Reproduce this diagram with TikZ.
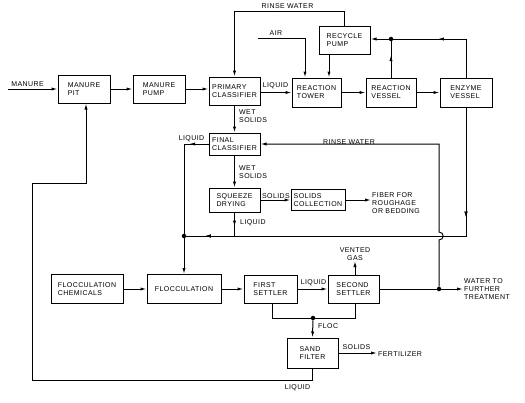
\documentclass[tikz,border=0pt]{standalone}
\usepackage{fontspec}
\setmainfont{Liberation Sans}[LetterSpace=6]
\usetikzlibrary{arrows.meta,decorations.markings}
\tikzset{
  >={Latex[length=6pt,width=3.2pt]},
  every node/.style={font=\fontsize{7}{8}\selectfont, inner sep=1pt},
  box/.style={draw, line width=1pt, rectangle, align=left, inner sep=0pt},
  lbl/.style={align=left},
  dotn/.style={circle, fill, inner sep=0pt, minimum size=4.5pt},
  ln/.style={line width=1pt},
  marrow/.style={postaction={decorate},
    decoration={markings, mark=at position #1 with {\arrow{>}}}}
}
\begin{document}
\begin{tikzpicture}[x=1pt,y=-1pt]
\useasboundingbox (0,0) rectangle (525,402);
% boxes
\node[box, minimum width=52pt, minimum height=28pt] (pit) at (84,89) {MANURE\\PIT};
\node[box, minimum width=52pt, minimum height=28pt] (pump) at (159,89) {MANURE\\PUMP};
\node[box, minimum width=51pt, minimum height=28pt] (prim) at (234.5,91) {PRIMARY\\CLASSIFIER};
\node[box, minimum width=49pt, minimum height=29pt] (tower) at (316.5,92.5) {REACTION\\TOWER};
\node[box, minimum width=50pt, minimum height=29pt] (rvessel) at (391,92.5) {REACTION\\VESSEL};
\node[box, minimum width=52pt, minimum height=29pt] (enzyme) at (466,92.5) {ENZYME\\VESSEL};
\node[box, minimum width=51pt, minimum height=28pt] (recycle) at (344.5,40) {RECYCLE\\PUMP};
\node[box, minimum width=51pt, minimum height=22pt] (final) at (234.5,144) {FINAL\\CLASSIFIER};
\node[box, minimum width=51pt, minimum height=24pt] (squeeze) at (234.5,200) {SQUEEZE\\DRYING};
\node[box, minimum width=54pt, minimum height=21pt] (solids) at (318,200) {SOLIDS\\COLLECTION};
\node[box, minimum width=72pt, minimum height=29pt] (chem) at (87,289) {FLOCCULATION\\CHEMICALS};
\node[box, minimum width=74pt, minimum height=29pt] (floc) at (184,289) {FLOCCULATION};
\node[box, minimum width=53pt, minimum height=28pt] (first) at (270.5,289) {FIRST\\SETTLER};
\node[box, minimum width=51pt, minimum height=28pt] (second) at (353.5,289) {SECOND\\SETTLER};
\node[box, minimum width=51pt, minimum height=30pt] (sand) at (312.5,353) {SAND\\FILTER};
% dots
\node[dotn] (d1) at (391,39) {};
\node[dotn] (d2) at (184,236) {};
\node[dotn] (d3) at (439,289) {};
\node[dotn] (d4) at (313,318) {};
% end texts
\node[lbl, anchor=west] (fiber) at (371,203) {\fontsize{7}{7}\selectfont FIBER FOR\\ROUGHAGE\\OR BEDDING};
\node[lbl, anchor=west] (water) at (463,289) {\fontsize{7}{7}\selectfont WATER TO\\FURTHER\\TREATMENT};
\node[lbl, anchor=west] (fert) at (377,354) {FERTILIZER};
\node[align=center, anchor=south, inner sep=0pt] (vent) at (355,261) {VENTED\\GAS};
\coordinate (manin) at (8,89);
\coordinate (air) at (258,38);
% labels
\node at (27.5,84) {MANURE};
\node at (275.5,86) {LIQUID};
\node at (287.5,6) {RINSE WATER};
\node at (276,33) {AIR};
\node[lbl, anchor=west] at (238,116) {WET\\SOLIDS};
\node at (191.5,139) {LIQUID};
\node at (349,142) {RINSE WATER};
\node[lbl, anchor=west] at (238,172) {WET\\SOLIDS};
\node at (276,196) {SOLIDS};
\node[anchor=west] at (239,223) {LIQUID};
\node at (313.5,283) {LIQUID};
\node[anchor=west] at (317,326) {FLOC};
\node at (356.5,347) {SOLIDS};
\node at (297.5,388) {LIQUID};
% connectors
\draw[ln,->] (manin) -- (pit.west);
\draw[ln,->] (pit.east) -- (pump.west);
\draw[ln,->] (pump.east) -- (pump.east -| prim.west);
\draw[ln,->] (prim.east |- tower.west) -- (tower.west);
\draw[ln,->] (tower.east) -- (rvessel.west);
\draw[ln,->] (rvessel.east) -- (enzyme.west);
\draw[ln,marrow=0.6] (enzyme.north) -- (enzyme.north |- d1) -- (d1);
\draw[ln,->] (d1) -- (recycle.east |- d1);
\draw[ln,marrow=0.62] (rvessel.north) -- (d1);
\draw[ln,->] ([xshift=-15.5pt]recycle.south) -- ([xshift=-15.5pt]recycle.south |- tower.north);
\draw[ln,->] (air) -| ([xshift=-11.5pt]tower.north);
\draw[ln,->] (recycle.north) -- (344.5,11) -- (234.5,11) -- (prim.north);
\draw[ln,->] (prim.south) -- (final.north);
\draw[ln,marrow=0.17] (final.west) -- (184,144) -- (d2);
\draw[ln,->] (final.south) -- (squeeze.north);
\draw[ln,->] (squeeze.east) -- (solids.west);
\draw[ln,->] (solids.east) -- (solids.east -| fiber.west);
\draw[ln,marrow=0.6] (squeeze.south) -- (squeeze.south |- d2);
\draw[ln,marrow=0.27,marrow=0.955] (enzyme.south) -- (466,236) -- (d2);
\draw[ln,->] (d2) -- (floc.north);
\draw[ln,->] (chem.east) -- (floc.west);
\draw[ln,->] (floc.east) -- (first.west);
\draw[ln,->] (first.east) -- (second.west);
\draw[ln,->] (second.north -| vent.south) -- (vent.south);
\draw[ln] (second.east) -- (d3);
\draw[ln,->] (d3) -- (water.west);
\draw[ln,->] (d3) -- (439,240) .. controls (444.5,240) and (444.5,232) .. (439,232) -- (439,144) -- (final.east);
\draw[ln] ([xshift=1.5pt]first.south) -- (272,318) -- (355,318) -- ([xshift=1.5pt]second.south);
\draw[ln,->] (d4) -- (sand.north);
\draw[ln,->] (sand.east) -- (sand.east -| fert.west);
\draw[ln,->] (sand.south) -- (312.5,380) -- (32,380) -- (32,183) -- (86,183) -- ([xshift=2pt]pit.south);
\end{tikzpicture}
\end{document}
